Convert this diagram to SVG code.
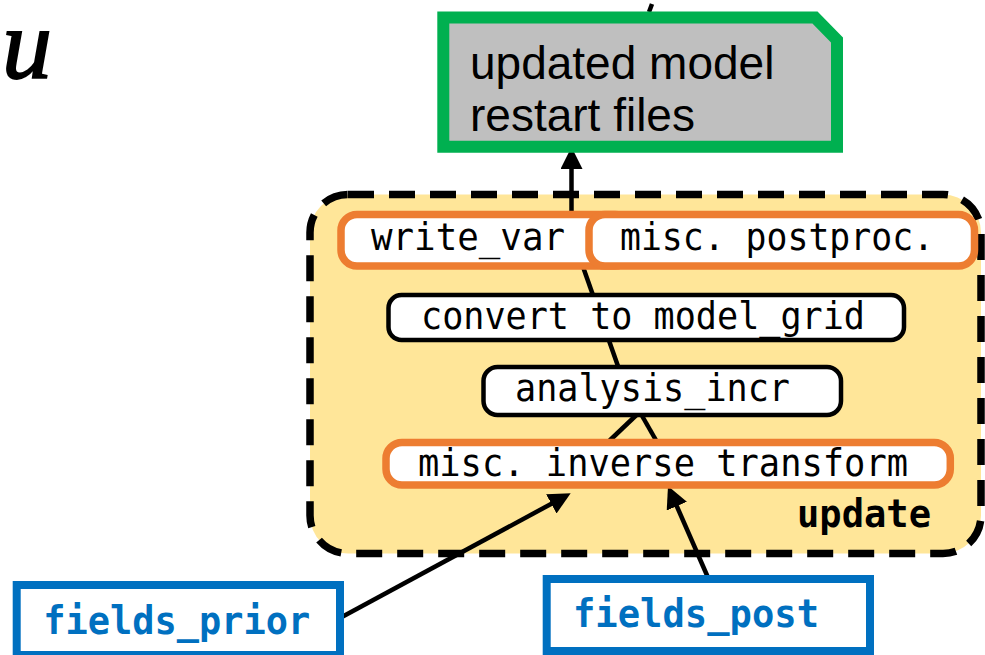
<svg xmlns="http://www.w3.org/2000/svg" width="985" height="655" viewBox="0 0 985 655">
  <style>
    .mono { font-family: "DejaVu Sans Mono", "Liberation Mono", monospace; font-size: 37px; fill: #000; text-anchor: middle; }
    .monob { font-family: "DejaVu Sans Mono", "Liberation Mono", monospace; font-size: 39px; font-weight: bold; text-anchor: middle; }
    .blk { fill: #fff; stroke: #000; stroke-width: 4.5; }
    .org { fill: #fff; stroke: #ED7D31; stroke-width: 7.5; }
    .blu { fill: #fff; stroke: #0070C0; stroke-width: 8; }
    .wire { stroke: #000; stroke-width: 4.5; fill: none; }
    .arrow { stroke: #000; stroke-width: 4.5; fill: none; marker-end: url(#head); }
  </style>
  <defs>
    <marker id="head" viewBox="0 0 22 22" markerWidth="22" markerHeight="22" refX="16" refY="11" orient="auto" markerUnits="userSpaceOnUse">
      <path d="M0,0 L22,11 L0,22 z" fill="#000"/>
    </marker>
  </defs>

  <rect width="985" height="655" fill="#fff"/>

  <!-- math symbol -->
  <text x="2" y="78" font-family="Liberation Serif, serif" font-style="italic" font-size="100" stroke="#000" stroke-width="1.8">u</text>

  <!-- update container -->
  <g id="update">
    <rect x="310" y="194.5" width="671" height="359" rx="38" fill="#FFE699" stroke="#000" stroke-width="7.5" stroke-dasharray="26 15"/>
    <text class="monob" x="864" y="527" fill="#000" textLength="134" lengthAdjust="spacingAndGlyphs">update</text>
  </g>

  <!-- connectors -->
  <g id="connectors">
    <line class="wire" x1="652" y1="4" x2="649" y2="12" stroke-width="7"/>
    <line class="arrow" x1="571.5" y1="215" x2="571.5" y2="153"/>
    <line class="wire" x1="619" y1="369" x2="582" y2="264"/>
    <line class="wire" x1="606" y1="444" x2="637.5" y2="414"/>
    <line class="wire" x1="657" y1="442" x2="641" y2="414"/>
    <line class="arrow" x1="340" y1="618" x2="565.4" y2="496.2"/>
    <line class="arrow" x1="709.5" y1="581" x2="670.4" y2="491.5"/>
  </g>

  <g id="restart">
    <path d="M443.3,17.5 H815 L837,40 V146.8 H443.3 Z" fill="#BFBFBF" stroke="#00B050" stroke-width="12"/>
    <text x="470" y="79" font-family="Liberation Sans, Arial, sans-serif" font-size="46">updated model</text>
    <text x="470" y="131" font-family="Liberation Sans, Arial, sans-serif" font-size="46">restart files</text>
  </g>

  <g id="write_var">
    <rect class="org" x="341" y="214.5" width="290" height="51.5" rx="16"/>
    <text class="mono" x="468" y="250" textLength="194" lengthAdjust="spacingAndGlyphs">write_var</text>
  </g>

  <g id="postproc">
    <rect class="org" x="589" y="214.5" width="385.5" height="51.5" rx="16"/>
    <text class="mono" x="777" y="250" textLength="314" lengthAdjust="spacingAndGlyphs">misc. postproc.</text>
  </g>

  <g id="convert">
    <rect class="blk" x="388.5" y="295" width="515.5" height="45" rx="13"/>
    <text class="mono" x="643" y="329" textLength="444" lengthAdjust="spacingAndGlyphs">convert to model_grid</text>
  </g>

  <g id="analysis_incr">
    <rect class="blk" x="483.5" y="367" width="357.5" height="48" rx="14"/>
    <text class="mono" x="652.5" y="401" textLength="275" lengthAdjust="spacingAndGlyphs">analysis_incr</text>
  </g>

  <g id="inverse">
    <rect class="org" x="386" y="442.5" width="564.3" height="42.5" rx="16"/>
    <text class="mono" x="663" y="476" textLength="490" lengthAdjust="spacingAndGlyphs">misc. inverse transform</text>
  </g>

  <g id="fields_prior">
    <rect class="blu" x="16.7" y="585" width="323.3" height="70"/>
    <text class="monob" x="176.7" y="634" fill="#0070C0" textLength="267" lengthAdjust="spacingAndGlyphs">fields_prior</text>
  </g>

  <g id="fields_post">
    <rect class="blu" x="546.7" y="579" width="323.3" height="72"/>
    <text class="monob" x="696" y="627" fill="#0070C0" textLength="246" lengthAdjust="spacingAndGlyphs">fields_post</text>
  </g>
</svg>
